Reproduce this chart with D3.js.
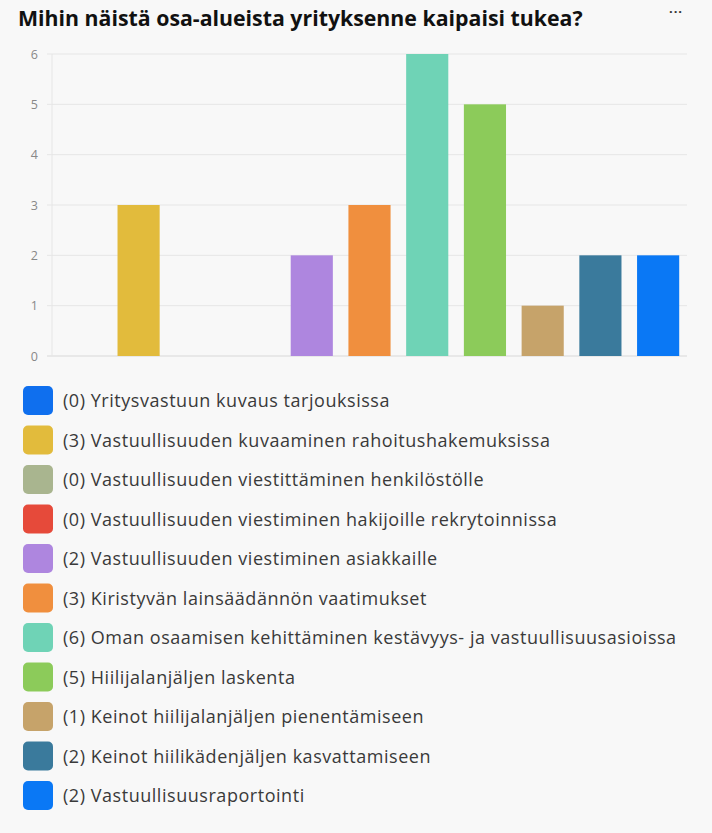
<!DOCTYPE html>
<meta charset="utf-8">
<script src="https://cdn.jsdelivr.net/npm/d3@7"></script>
<style>
  body { margin: 0; background: #f8f8f8; }
  svg { display: block; }
</style>
<body>
<script>

var width = 712
var height = 833

var title = "Mihin näistä osa-alueista yrityksenne kaipaisi tukea?"

var categories = [
  "Yritysvastuun kuvaus tarjouksissa",
  "Vastuullisuuden kuvaaminen rahoitushakemuksissa",
  "Vastuullisuuden viestittäminen henkilöstölle",
  "Vastuullisuuden viestiminen hakijoille rekrytoinnissa",
  "Vastuullisuuden viestiminen asiakkaille",
  "Kiristyvän lainsäädännön vaatimukset",
  "Oman osaamisen kehittäminen kestävyys- ja vastuullisuusasioissa",
  "Hiilijalanjäljen laskenta",
  "Keinot hiilijalanjäljen pienentämiseen",
  "Keinot hiilikädenjäljen kasvattamiseen",
  "Vastuullisuusraportointi"
]
var counts = [0, 3, 0, 0, 2, 3, 6, 5, 1, 2, 2]
var colors = ["#0f6fee", "#e2bb3c", "#a9b58f", "#e64a3a", "#ae86df", "#f08f3e",
              "#6fd3b6", "#8ccb5a", "#c6a36a", "#3a7a9c", "#0a78f5"]
var yTicks = [0, 1, 2, 3, 4, 5, 6]

var svg = d3.select("body").append("svg")
            .attr("width", width)
            .attr("height", height)

svg.append("text")
   .attr("x", 18).attr("y", 26)
   .style("font-family", "'Open Sans', sans-serif")
   .style("font-weight", "bold")
   .style("font-size", "21.3px")
   .style("fill", "#111")
   .text(title)

svg.append("text")
   .attr("x", 676).attr("y", 13)
   .style("font-family", "'Open Sans', sans-serif")
   .style("font-weight", "bold")
   .style("font-size", "13px")
   .style("letter-spacing", "1px")
   .style("fill", "#333")
   .attr("text-anchor", "middle")
   .text("...")

var x = d3.scaleBand().domain(d3.range(categories.length)).range([52, 687]).paddingInner(0.27).paddingOuter(0.135)
var y = d3.scaleLinear().domain([0, 6]).range([356, 54])

// grid
svg.append("g").selectAll("line").data(yTicks).join("line")
   .attr("x1", 47).attr("x2", 687)
   .attr("y1", d => y(d)).attr("y2", d => y(d))
   .attr("stroke", d => d === 0 ? "#d8d8d8" : "#e6e6e6")
   .attr("stroke-width", 1)

svg.append("line")
   .attr("x1", 52).attr("x2", 52).attr("y1", y(6)).attr("y2", y(0))
   .attr("stroke", "#e6e6e6")

var yAxis = svg.append("g")
   .attr("transform", "translate(38,0)")
   .call(d3.axisLeft(y).tickValues(yTicks).tickFormat(d3.format("d")).tickSize(0).tickPadding(0))
yAxis.select(".domain").remove()
yAxis.selectAll("text")
     .style("font-family", "'Open Sans', sans-serif")
     .style("font-size", "12.5px")
     .style("fill", "#888")

svg.append("g").selectAll("rect").data(counts).join("rect")
   .attr("x", (d, i) => x(i))
   .attr("width", x.bandwidth())
   .attr("y", d => y(d))
   .attr("height", d => y(0) - y(d))
   .attr("fill", (d, i) => colors[i])

// legend
var legend = svg.append("g").selectAll("g").data(categories).join("g")
   .attr("transform", (d, i) => "translate(23," + (386 + i * 39.5) + ")")

legend.append("rect")
   .attr("width", 30).attr("height", 29)
   .attr("rx", 5)
   .attr("fill", (d, i) => colors[i])

legend.append("text")
   .attr("x", 40).attr("y", 15)
   .attr("dy", "0.35em")
   .style("font-family", "'Open Sans', sans-serif")
   .style("font-size", "18px")
   .style("letter-spacing", "0.54px")
   .style("fill", "#3a3a3a")
   .text((d, i) => "(" + counts[i] + ") " + d)

</script>
</body>
